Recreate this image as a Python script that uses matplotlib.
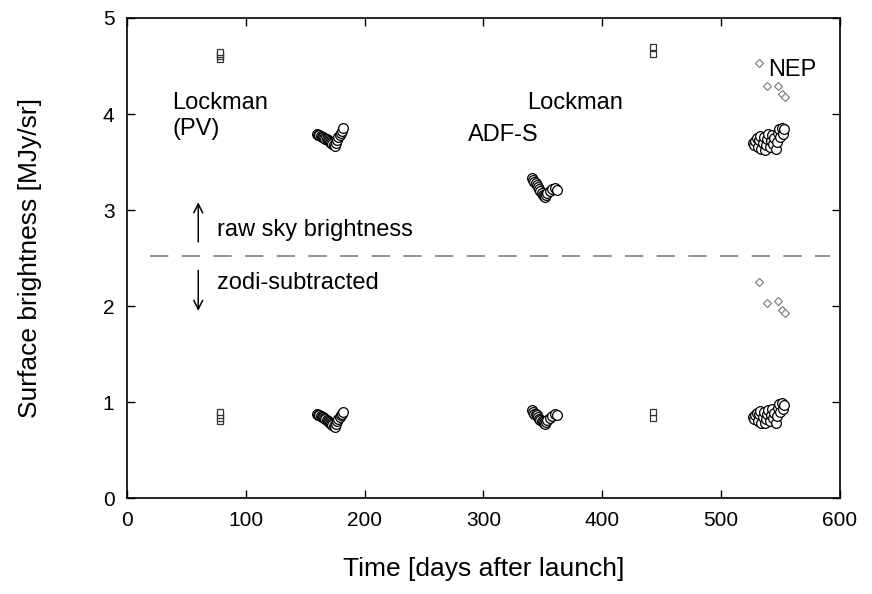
import matplotlib.pyplot as plt
import numpy as np

plt.rcParams['font.family'] = ['Liberation Sans', 'DejaVu Sans']

# Lockman hole (PV phase and later visit): square markers
lockman_days = [78, 78, 78, 78, 443, 443]
lockman_raw = [4.57, 4.60, 4.62, 4.65, 4.63, 4.70]
lockman_sub = [0.80, 0.83, 0.86, 0.90, 0.83, 0.90]

# first Lockman cluster of pointings
cl1_days = [160, 161, 162, 163, 164, 165, 166, 167, 168, 169, 170, 171,
            172, 173, 174, 175, 176, 177, 178, 179, 180, 181, 182]
cl1_raw = [3.79, 3.78, 3.78, 3.77, 3.76, 3.76, 3.75, 3.74, 3.74, 3.73, 3.72, 3.71,
           3.70, 3.69, 3.68, 3.67, 3.70, 3.73, 3.76, 3.78, 3.80, 3.82, 3.85]
cl1_sub = [0.87, 0.86, 0.86, 0.85, 0.84, 0.84, 0.83, 0.82, 0.81, 0.80, 0.79, 0.78,
           0.77, 0.76, 0.75, 0.74, 0.77, 0.80, 0.82, 0.84, 0.86, 0.88, 0.90]

# ADF-S
adfs_days = [341, 342, 343, 344, 345, 346, 347, 348, 349, 350, 351, 352,
             353, 354, 356, 358, 360, 362]
adfs_raw = [3.33, 3.31, 3.29, 3.28, 3.26, 3.24, 3.22, 3.20, 3.18, 3.16, 3.15, 3.14,
            3.16, 3.18, 3.20, 3.22, 3.23, 3.21]
adfs_sub = [0.92, 0.90, 0.88, 0.87, 0.86, 0.84, 0.82, 0.81, 0.80, 0.79, 0.78, 0.77,
            0.79, 0.81, 0.83, 0.85, 0.87, 0.86]

# NEP circles
nep_days = [527, 528, 529, 530, 531, 532, 533, 534, 535, 536, 537, 538, 539, 540,
            541, 542, 543, 544, 545, 546, 547, 548, 549, 550, 551, 552, 553]
nep_raw = [3.70, 3.68, 3.72, 3.75, 3.66, 3.73, 3.77, 3.64, 3.70, 3.76, 3.62, 3.68,
           3.74, 3.79, 3.66, 3.72, 3.78, 3.69, 3.75, 3.64, 3.71, 3.80, 3.84, 3.76,
           3.85, 3.79, 3.84]
nep_sub = [0.84, 0.82, 0.86, 0.89, 0.80, 0.87, 0.91, 0.78, 0.84, 0.90, 0.78, 0.82,
           0.88, 0.92, 0.80, 0.86, 0.93, 0.83, 0.89, 0.78, 0.85, 0.94, 0.98, 0.90,
           0.99, 0.93, 0.97]

# NEP diamonds
nepd_days = [532, 539, 548, 551, 554]
nepd_raw = [4.53, 4.29, 4.29, 4.21, 4.18]
nepd_sub = [2.25, 2.03, 2.05, 1.96, 1.93]

fig = plt.figure(figsize=(8.72, 5.94), dpi=100)
ax = fig.add_axes([0.1456, 0.1616, 0.8174, 0.8081])

circ = dict(marker='o', ms=7, mfc='white', mec='black', mew=0.9, ls='none')
for d, r, s in [(cl1_days, cl1_raw, cl1_sub), (adfs_days, adfs_raw, adfs_sub),
                (nep_days, nep_raw, nep_sub)]:
    ax.plot(d, r, **circ)
    ax.plot(d, s, **circ)

sq = dict(marker='s', ms=5, mfc='white', mec='#333333', mew=0.9, ls='none')
ax.plot(lockman_days, lockman_raw, **sq)
ax.plot(lockman_days, lockman_sub, **sq)

dm = dict(marker='D', ms=4, mfc='white', mec='#777777', mew=0.8, ls='none')
ax.plot(nepd_days, nepd_raw, **dm)
ax.plot(nepd_days, nepd_sub, **dm)

# divider between raw and zodi-subtracted values
ax.plot([19, 592], [2.52, 2.52], color='#808080', lw=1.2, dashes=(11, 8))
arrow = dict(arrowstyle='->', color='black', lw=1.1, mutation_scale=16)
ax.annotate('', xy=(60, 3.11), xytext=(60, 2.64), arrowprops=arrow)
ax.annotate('', xy=(60, 1.92), xytext=(60, 2.40), arrowprops=arrow)
ax.text(76, 2.79, 'raw sky brightness', fontsize=17, va='center')
ax.text(76, 2.24, 'zodi-subtracted', fontsize=17, va='center')

ax.text(38, 4.11, 'Lockman', fontsize=17, va='center')
ax.text(38, 3.84, '(PV)', fontsize=17, va='center')
ax.text(287, 3.78, 'ADF-S', fontsize=17, va='center')
ax.text(337, 4.11, 'Lockman', fontsize=17, va='center')
ax.text(540, 4.46, 'NEP', fontsize=17, va='center')

ax.set_xlim(0, 600)
ax.set_ylim(0, 5)
ax.set_xticks(np.arange(0, 601, 100))
ax.set_yticks(np.arange(0, 6, 1))
ax.tick_params(direction='in', top=True, right=True, length=6, width=1,
               labelsize=15, pad=9)
for sp in ax.spines.values():
    sp.set_linewidth(1.2)
ax.set_xlabel('Time [days after launch]', fontsize=19, labelpad=20)
ax.set_ylabel('Surface brightness [MJy/sr]', fontsize=19, labelpad=44)

fig.savefig('out.png', dpi=100)
